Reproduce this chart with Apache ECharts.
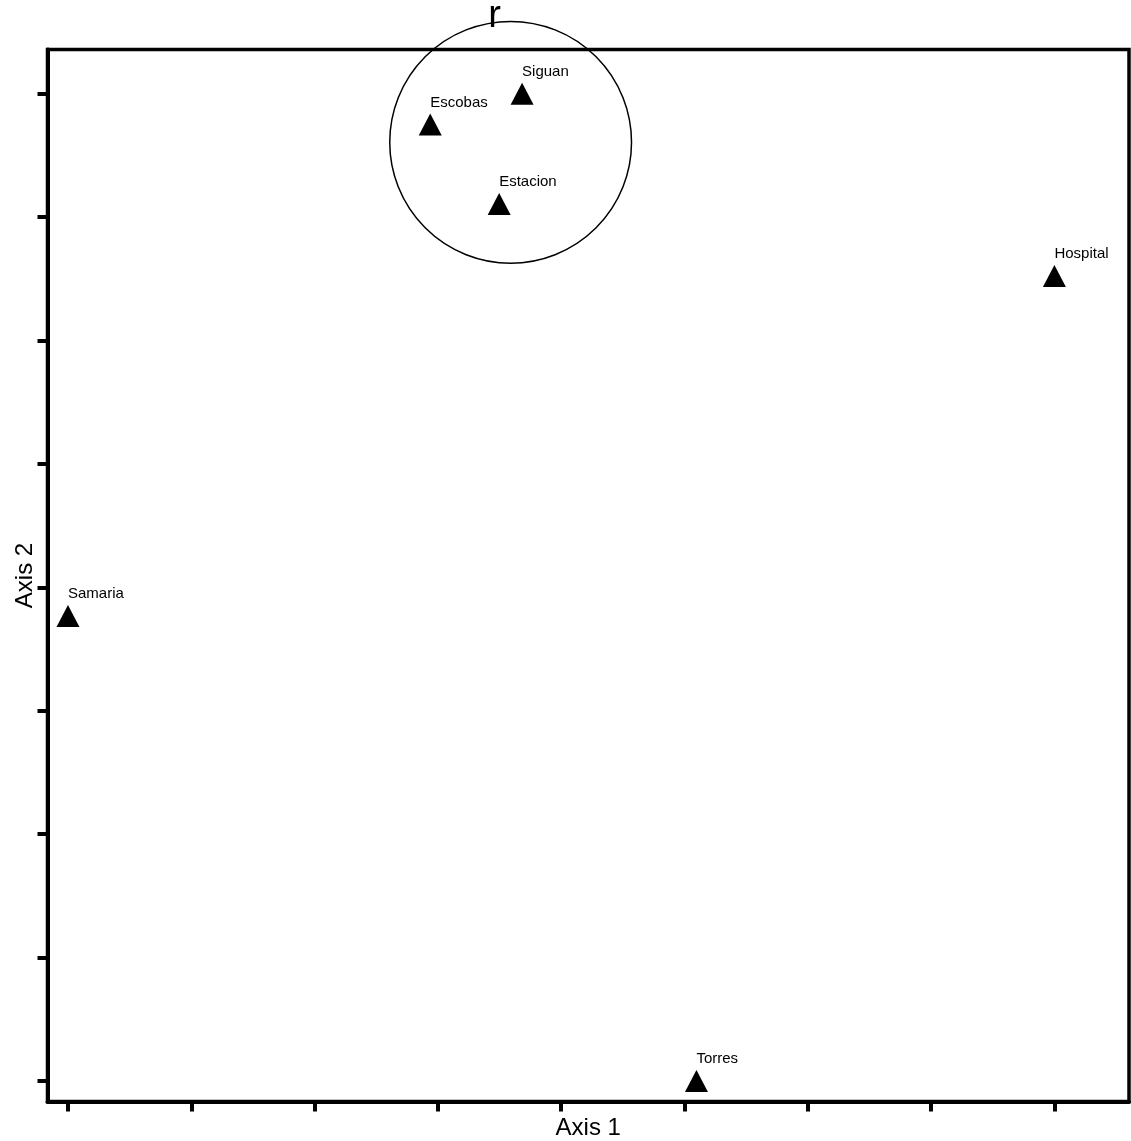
<!DOCTYPE html>
<html>
<head>
<meta charset="utf-8">
<script src="https://cdn.jsdelivr.net/npm/echarts@6/dist/echarts.min.js"></script>
<style>html,body{margin:0;padding:0;background:#fff;}#c{width:1131px;height:1141px;}</style>
</head>
<body>
<div id="c"></div>
<script>
var siteNames = ['Siguan', 'Escobas', 'Estacion', 'Hospital', 'Samaria', 'Torres'];
var axis1Values = [3.683, 2.938, 3.497, 8.0, 0.0, 5.097];
var axis2Values = [8.0, 7.751, 7.107, 6.523, 3.768, 0.0];
var tickValues = [0, 1, 2, 3, 4, 5, 6, 7, 8];
var circleCenter = [3.59, 7.607];
var circleRadius = 0.98;
var vectorLabel = 'r';
var axis1Name = 'Axis 1';
var axis2Name = 'Axis 2';

var FONT = '"Liberation Sans", Arial, Helvetica, sans-serif';
var chart = echarts.init(document.getElementById('c'), null, {renderer: 'canvas'});

var points = siteNames.map(function (n, i) {
  return {name: n, value: [axis1Values[i], axis2Values[i]]};
});

var axisCommon = {
  type: 'value',
  splitLine: {show: false},
  axisLine: {show: true, onZero: false, lineStyle: {color: '#000', width: 4}},
  axisTick: {show: true, inside: false, length: 10, customValues: tickValues, lineStyle: {color: '#000', width: 4}},
  axisLabel: {show: false},
  nameLocation: 'middle',
  nameTextStyle: {fontFamily: FONT, fontSize: 24, color: '#000'}
};

chart.setOption({
  animation: false,
  backgroundColor: '#fff',
  grid: {left: 47.5, right: 2, top: 49.5, bottom: 39.5, show: true, borderColor: '#000', borderWidth: 3.5, containLabel: false, outerBoundsMode: 'none'},
  xAxis: Object.assign({}, axisCommon, {min: -0.166, max: 8.605, name: axis1Name, nameGap: 15}),
  yAxis: Object.assign({}, axisCommon, {min: -0.166, max: 8.359, name: axis2Name, nameGap: 10}),
  series: [
    {
      type: 'scatter',
      data: points,
      symbol: 'triangle',
      symbolSize: [23, 22],
      itemStyle: {color: '#000', opacity: 1},
      label: {
        show: true,
        formatter: '{b}',
        position: [11.5, -11],
        align: 'left',
        verticalAlign: 'middle',
        fontFamily: FONT,
        fontSize: 15,
        color: '#000',
        opacity: 1
      },
      z: 3
    },
    {
      type: 'custom',
      clip: false,
      silent: true,
      data: [[circleCenter[0], circleCenter[1], circleRadius]],
      renderItem: function (params, api) {
        var c = api.coord([api.value(0), api.value(1)]);
        var s = api.size([api.value(2), api.value(2)]);
        var r = (s[0] + s[1]) / 2;
        return {
          type: 'group',
          children: [
            {type: 'circle', shape: {cx: c[0], cy: c[1], r: r}, style: {fill: 'none', stroke: '#000', lineWidth: 1.5}},
            {type: 'text', style: {text: vectorLabel, x: c[0] - 16, y: c[1] - r - 5, align: 'center', verticalAlign: 'middle', font: '38px ' + FONT, fill: '#000'}}
          ]
        };
      },
      z: 4
    }
  ]
});
</script>
</body>
</html>
